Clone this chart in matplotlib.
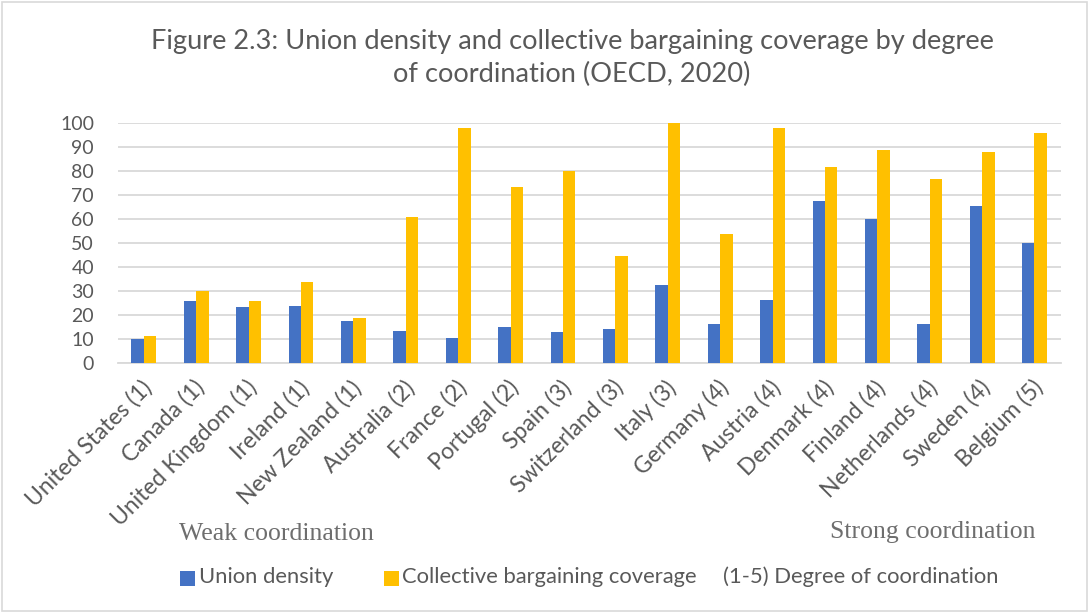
import matplotlib
matplotlib.use("Agg")
import matplotlib.pyplot as plt
import matplotlib.transforms as mtransforms
import numpy as np
from matplotlib.patches import Rectangle

countries = [
    "United States (1)", "Canada (1)", "United Kingdom (1)", "Ireland (1)",
    "New Zealand (1)", "Australia (2)", "France (2)", "Portugal (2)",
    "Spain (3)", "Switzerland (3)", "Italy (3)", "Germany (4)",
    "Austria (4)", "Denmark (4)", "Finland (4)", "Netherlands (4)",
    "Sweden (4)", "Belgium (5)",
]
union_density = [10.0, 25.8, 23.3, 24.0, 17.6, 13.6, 10.7, 15.1, 12.9,
                 14.3, 32.5, 16.5, 26.3, 67.5, 60.0, 16.4, 65.4, 50.0]
bargaining_coverage = [11.5, 30.0, 25.8, 33.9, 19.0, 61.1, 97.9, 73.5, 80.0,
                       44.9, 100.0, 53.9, 97.9, 81.9, 88.8, 76.7, 87.9, 96.0]
y_ticks = [0, 10, 20, 30, 40, 50, 60, 70, 80, 90, 100]
legend_labels = ["Union density", "Collective bargaining coverage",
                 "(1-5) Degree of coordination"]

BLUE = "#4472C4"
GOLD = "#FFC000"
TEXT = "#595959"
GRID = "#D9D9D9"
SANS = "Lato"
W, H = 1089, 613


def fx(px):
    return px / W


def fy(py):
    return 1 - py / H


fig = plt.figure(figsize=(W / 100, H / 100), dpi=100)
fig.patches.append(Rectangle((0.002, 0.003), 0.996, 0.994, transform=fig.transFigure,
                             fill=False, edgecolor=GRID, linewidth=1.2))

ax = fig.add_axes([0.108, 0.4073, 0.866, 0.3916])
x = np.arange(len(countries))
w = 0.237
ax.bar(x - w / 2, union_density, width=w, color=BLUE, zorder=3)
ax.bar(x + w / 2, bargaining_coverage, width=w, color=GOLD, zorder=3)

ax.set_xlim(-0.5, len(countries) - 0.5)
ax.set_ylim(0, 100)
ax.set_yticks(y_ticks)
ax.yaxis.grid(True, color=GRID, linewidth=1.3, zorder=0)
for s in ["top", "right", "left"]:
    ax.spines[s].set_visible(False)
ax.spines["bottom"].set_color(GRID)
ax.spines["bottom"].set_linewidth(1.3)
ax.tick_params(axis="y", length=0, pad=17, labelsize=14, labelcolor=TEXT)
ax.tick_params(axis="x", length=0, pad=15, labelsize=16.5, labelcolor=TEXT)
for lbl in ax.get_yticklabels():
    lbl.set_fontfamily(SANS)
ax.set_xticks(x)
ax.set_xticklabels(countries, rotation=45, ha="right", va="center",
                   rotation_mode="anchor", fontfamily=SANS)
# nudge the slanted category labels slightly to the right
shift = mtransforms.ScaledTranslation(5 / 100, 0, fig.dpi_scale_trans)
for lbl in ax.get_xticklabels():
    lbl.set_transform(lbl.get_transform() + shift)

fig.text(fx(572), fy(58), "Figure 2.3: Union density and collective bargaining coverage by degree\nof coordination (OECD, 2020)",
         ha="center", va="center", fontsize=19.6, color=TEXT, fontfamily=SANS,
         linespacing=1.38)

fig.text(fx(179), fy(540), "Weak coordination", ha="left", va="baseline",
         fontsize=18.5, color="#6E6E6E", fontfamily="Liberation Serif")
fig.text(fx(1035), fy(538), "Strong coordination", ha="right", va="baseline",
         fontsize=18.5, color="#6E6E6E", fontfamily="Liberation Serif")

# legend row: colour keys and their captions
key_colors = [BLUE, GOLD, None]
key_left = [180, 384, None]
text_left = [199, 402, 723]
for col, kx, tx, lab in zip(key_colors, key_left, text_left, legend_labels):
    if col is not None:
        fig.patches.append(Rectangle((fx(kx), fy(586)), fx(15), 15 / H,
                                     transform=fig.transFigure, facecolor=col,
                                     edgecolor="none"))
    fig.text(fx(tx), fy(577), lab, ha="left", va="center", fontsize=15.8,
             color=TEXT, fontfamily=SANS)

fig.savefig("out.png", dpi=100)
